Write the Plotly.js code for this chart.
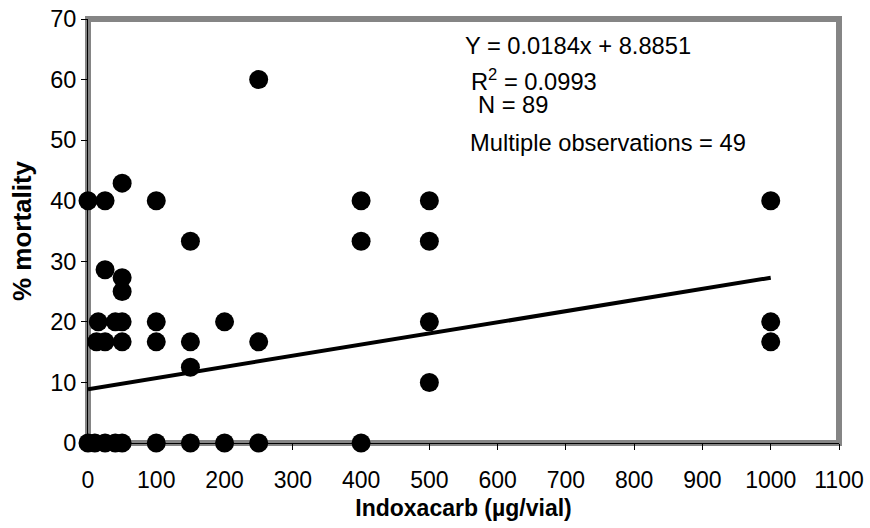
<!DOCTYPE html>
<html>
<head>
<meta charset="utf-8">
<script src="https://cdn.plot.ly/plotly-3.0.1.min.js"></script>
<style>html,body{margin:0;padding:0;background:#fff;}#chart{width:870px;height:528px;}</style>
</head>
<body>
<div id="chart"></div>
<script>
// Observed data (dose in µg/vial, % mortality)
const doseValues = [0, 25, 50, 100, 150, 250,
  25, 50, 50,
  15, 40, 50, 100, 200,
  12.5, 25, 50, 100, 150, 250,
  150,
  0, 10, 25, 40, 50, 100, 150, 200, 250, 400,
  400, 400, 500, 500, 500, 500,
  1000, 1000, 1000];
const mortalityValues = [40, 40, 42.9, 40, 33.3, 60,
  28.6, 27.3, 25,
  20, 20, 20, 20, 20,
  16.7, 16.7, 16.7, 16.7, 16.7, 16.7,
  12.5,
  0, 0, 0, 0, 0, 0, 0, 0, 0, 0,
  40, 33.3, 40, 33.3, 20, 10,
  40, 20, 16.7];

// Regression
const slope = 0.0184;
const intercept = 8.8851;
const fitRange = [0, 1000];
const fitY = fitRange.map(x => slope * x + intercept);

const statLines = [
  "Y = 0.0184x + 8.8851",
  "R<sup>2</sup> = 0.0993",
  "N = 89",
  "Multiple observations = 49"
];

const xTicks = [0,100,200,300,400,500,600,700,800,900,1000,1100];
const yTicks = [0,10,20,30,40,50,60,70];

const FONT = "Arial, 'Liberation Sans', sans-serif";

const traces = [
  {
    x: fitRange, y: fitY, mode: 'lines', type: 'scatter',
    line: {color: '#000', width: 4}, hoverinfo: 'skip', cliponaxis: false
  },
  {
    x: doseValues, y: mortalityValues, mode: 'markers', type: 'scatter',
    marker: {color: '#000', size: 19}, cliponaxis: false
  }
];

const annPos = [
  {x: 0.499, y: 0.937},
  {x: 0.507, y: 0.857},
  {x: 0.517, y: 0.797},
  {x: 0.506, y: 0.708}
];

const layout = {
  width: 870, height: 528,
  margin: {l: 88, r: 31, t: 19, b: 85},
  paper_bgcolor: '#fff', plot_bgcolor: 'rgba(0,0,0,0)',
  showlegend: false,
  font: {family: FONT, color: '#000', size: 23},
  xaxis: {
    range: [0, 1100], tickvals: xTicks, ticktext: xTicks.map(String),
    showgrid: false, zeroline: false,
    showline: true, linecolor: '#000', linewidth: 1,
    ticks: 'outside', ticklen: 6, tickcolor: '#000', tickwidth: 1,
    ticklabelstandoff: 10,
    tickfont: {family: FONT, size: 23, color: '#000'},
    title: {text: 'Indoxacarb (µg/vial)', font: {family: FONT, size: 23, color: '#000', weight: 'bold'}, standoff: 8}
  },
  yaxis: {
    range: [0, 70], tickvals: yTicks, ticktext: yTicks.map(String),
    showgrid: false, zeroline: false,
    showline: true, linecolor: '#000', linewidth: 1,
    ticks: 'outside', ticklen: 6, tickcolor: '#000', tickwidth: 1,
    tickfont: {family: FONT, size: 23.5, color: '#000'},
    title: {text: '% mortality', font: {family: FONT, size: 26, color: '#000', weight: 'bold'}, standoff: 11}
  },
  shapes: [{
    type: 'rect', xref: 'paper', yref: 'paper', x0: 0, x1: 1, y0: 0, y1: 1,
    line: {color: '#858585', width: 6}, layer: 'below'
  }],
  annotations: statLines.map((t, i) => ({
    text: t, xref: 'paper', yref: 'paper', x: annPos[i].x, y: annPos[i].y,
    xanchor: 'left', yanchor: 'middle', showarrow: false,
    font: {family: FONT, size: 23.7, color: '#000'}
  }))
};

Plotly.newPlot('chart', traces, layout, {staticPlot: true, displayModeBar: false});
</script>
</body>
</html>
